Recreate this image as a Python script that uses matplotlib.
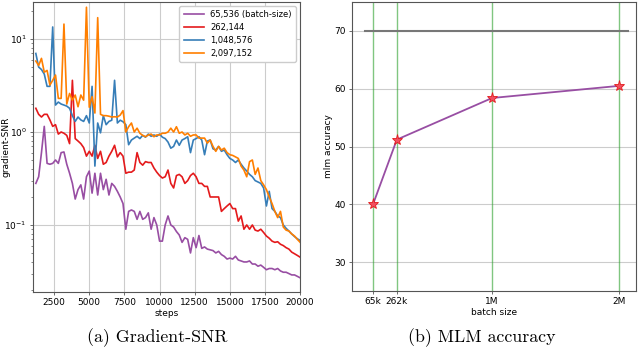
import matplotlib
matplotlib.use("Agg")
import matplotlib.pyplot as plt
import numpy as np

# ---------------- data: panel (a) ----------------
steps = list(range(1200, 20001, 200))

snr_65k = [0.28, 0.33, 0.6, 1.15, 0.46, 0.45, 0.46, 0.5, 0.46, 0.6,
           0.61, 0.45, 0.36, 0.28, 0.19, 0.24, 0.27, 0.19, 0.33, 0.38,
           0.22, 0.36, 0.21, 0.36, 0.24, 0.31, 0.21, 0.28, 0.26, 0.23,
           0.2, 0.17, 0.09, 0.14, 0.145, 0.14, 0.115, 0.14, 0.115, 0.12,
           0.135, 0.09, 0.12, 0.1, 0.067, 0.067, 0.1, 0.125, 0.1, 0.095,
           0.085, 0.078, 0.065, 0.073, 0.07, 0.05, 0.073, 0.057, 0.077, 0.056,
           0.058, 0.055, 0.054, 0.053, 0.05, 0.052, 0.048, 0.046, 0.043, 0.044,
           0.043, 0.046, 0.042, 0.041, 0.04, 0.04, 0.041, 0.038, 0.038, 0.036,
           0.037, 0.035, 0.033, 0.034, 0.034, 0.033, 0.034, 0.032, 0.031, 0.031,
           0.03, 0.029, 0.029, 0.028, 0.027]

snr_262k = [1.8, 1.55, 1.45, 1.55, 1.55, 1.35, 1.15, 1.2, 0.95, 1.0,
            0.97, 0.92, 0.75, 3.6, 0.85, 0.8, 0.75, 0.68, 0.55, 0.62,
            0.55, 0.72, 0.52, 0.62, 0.45, 0.47, 0.55, 0.62, 0.72, 0.54,
            0.6, 0.55, 0.36, 0.37, 0.37, 0.39, 0.6, 0.47, 0.44, 0.48,
            0.47, 0.47, 0.41, 0.37, 0.34, 0.32, 0.33, 0.39, 0.28, 0.25,
            0.34, 0.35, 0.33, 0.28, 0.3, 0.34, 0.36, 0.33, 0.28, 0.28,
            0.26, 0.26, 0.2, 0.2, 0.2, 0.2, 0.14, 0.15, 0.16, 0.17,
            0.15, 0.15, 0.11, 0.125, 0.09, 0.1, 0.09, 0.1, 0.088, 0.086,
            0.09, 0.083, 0.076, 0.072, 0.067, 0.065, 0.066, 0.062, 0.06, 0.057,
            0.055, 0.051, 0.049, 0.047, 0.045]

snr_1m = [7.0, 5.0, 4.7, 4.2, 3.1, 3.1, 13.5, 1.95, 2.1, 2.0,
          1.95, 1.9, 1.8, 1.5, 1.3, 1.45, 1.35, 1.3, 1.5, 1.25,
          3.1, 0.43, 1.25, 0.98, 1.5, 1.2, 1.3, 1.34, 3.6, 1.25,
          1.34, 1.29, 1.2, 0.73, 0.82, 0.86, 0.9, 0.85, 0.92, 0.88,
          0.95, 0.9, 0.93, 0.9, 0.95, 0.88, 0.85, 0.78, 0.67, 0.7,
          0.82, 0.72, 0.82, 0.85, 0.89, 0.6, 0.82, 0.85, 0.89, 0.82,
          0.57, 0.8, 0.82, 0.66, 0.64, 0.7, 0.62, 0.64, 0.57, 0.52,
          0.5, 0.47, 0.5, 0.45, 0.41, 0.38, 0.35, 0.33, 0.3, 0.29,
          0.28, 0.25, 0.16, 0.23, 0.15, 0.14, 0.125, 0.12, 0.1, 0.092,
          0.086, 0.08, 0.075, 0.071, 0.068]

snr_2m = [5.8, 5.2, 6.2, 4.4, 4.6, 3.2, 3.6, 4.1, 2.3, 2.3,
          14.5, 2.0, 2.6, 2.2, 2.5, 1.87, 2.5, 2.2, 22.0, 1.85,
          2.4, 1.6, 17.0, 1.55, 1.5, 1.5, 1.48, 1.45, 1.46, 1.45,
          1.52, 1.7, 1.0, 1.14, 1.25, 1.0, 1.1, 0.97, 0.92, 0.89,
          0.93, 0.95, 0.89, 0.93, 0.93, 0.97, 0.97, 1.0, 1.1, 1.0,
          1.14, 0.97, 1.0, 0.93, 0.97, 0.9, 0.93, 0.93, 0.86, 0.86,
          0.86, 0.76, 0.82, 0.7, 0.62, 0.7, 0.64, 0.67, 0.6, 0.57,
          0.56, 0.54, 0.52, 0.43, 0.39, 0.33, 0.48, 0.5, 0.35, 0.41,
          0.3, 0.27, 0.24, 0.2, 0.17, 0.14, 0.12, 0.14, 0.095, 0.088,
          0.086, 0.08, 0.076, 0.07, 0.065]

series_labels = ["65,536 (batch-size)", "262,144", "1,048,576", "2,097,152"]
series_colors = ["#984ea3", "#e41a1c", "#377eb8", "#ff7f00"]
x_ticks_a = [2500, 5000, 7500, 10000, 12500, 15000, 17500, 20000]

# ---------------- data: panel (b) ----------------
batch_sizes = [65536, 262144, 1048576, 2097152]
batch_labels = ["65k", "262k", "1M", "2M"]
mlm_acc = [40.0, 51.2, 58.4, 60.5]
baseline_acc = 70.0
baseline_x = [0, 2170000]
y_ticks_b = [30, 40, 50, 60, 70]

# ---------------- figure ----------------
fig = plt.figure(figsize=(6.4, 3.47), dpi=100)
ax1 = fig.add_axes([0.0516, 0.1585, 0.4174, 0.8355])
ax2 = fig.add_axes([0.55, 0.1614, 0.444, 0.8326])

spine_col = "#555555"
tick_fs = 6.5
lab_fs = 6.5

# panel (a)
for vals, lab, col in zip([snr_65k, snr_262k, snr_1m, snr_2m], series_labels, series_colors):
    ax1.plot(steps, vals, color=col, lw=1.2, label=lab)
ax1.set_yscale("log")
ax1.set_xlim(1000, 20000)
ax1.set_ylim(0.019, 25)
ax1.set_xticks(x_ticks_a)
ax1.grid(True, which="major", color="#cccccc", lw=0.8)
ax1.set_axisbelow(True)
ax1.tick_params(labelsize=tick_fs, length=2.5, width=0.6, color=spine_col, pad=2)
ax1.tick_params(which="minor", length=1.5, width=0.5, color=spine_col)
ax1.set_xlabel("steps", fontsize=lab_fs, labelpad=1)
ax1.set_ylabel("gradient-SNR", fontsize=lab_fs)
ax1.yaxis.set_label_coords(-0.085, 0.5)
leg = ax1.legend(loc="upper right", fontsize=6.0, handlelength=2.4, borderpad=0.5,
                 labelspacing=0.45, framealpha=1.0, edgecolor="#cccccc", fancybox=True)
for s in ax1.spines.values():
    s.set_color(spine_col)

# panel (b)
for b in batch_sizes:
    ax2.axvline(b, color="#2ca02c", alpha=0.6, lw=1.0, zorder=1)
ax2.plot(baseline_x, [baseline_acc, baseline_acc], color="#777777", lw=1.5, zorder=2)
ax2.plot(batch_sizes, mlm_acc, color="#984ea3", lw=1.3, zorder=3,
         marker="*", markersize=8, markerfacecolor="#f05060",
         markeredgecolor="#e41a1c", markeredgewidth=0.6)
ax2.set_xlim(-108000, 2238000)
ax2.set_ylim(25, 75)
ax2.set_yticks(y_ticks_b)
ax2.set_xticks(batch_sizes)
ax2.set_xticklabels(batch_labels)
ax2.yaxis.grid(True, color="#cccccc", lw=0.8)
ax2.set_axisbelow(True)
ax2.tick_params(labelsize=tick_fs, length=2.5, width=0.6, color=spine_col, pad=2)
ax2.set_xlabel("batch size", fontsize=lab_fs, labelpad=1)
ax2.set_ylabel("mlm accuracy", fontsize=lab_fs, labelpad=1)
for s in ax2.spines.values():
    s.set_color(spine_col)

# captions
fig.text(0.245, 0.028, "(a) Gradient-SNR", ha="center", va="center",
         fontsize=12.8, family="serif", fontname="cmr10")
fig.text(0.753, 0.028, "(b) MLM accuracy", ha="center", va="center",
         fontsize=12.8, family="serif", fontname="cmr10")

fig.savefig("out.png", dpi=100)
